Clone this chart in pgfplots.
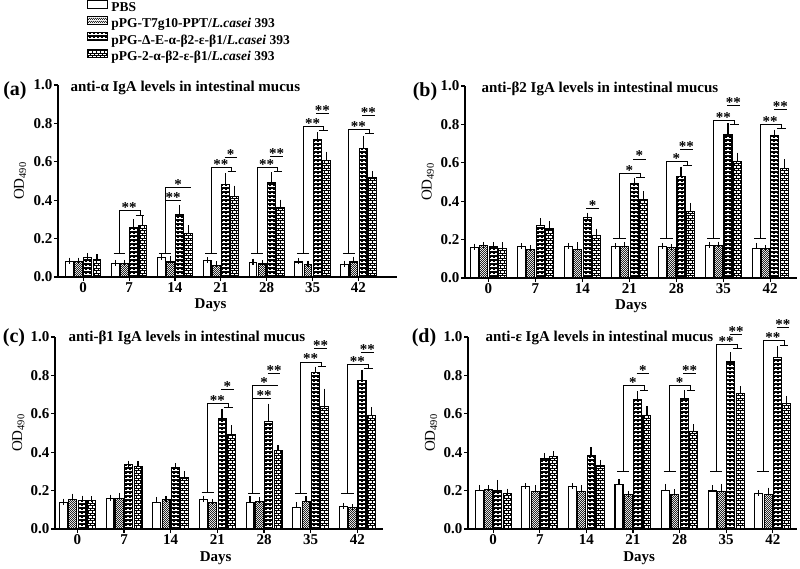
\documentclass[border=0pt]{standalone}
\usepackage{fontspec}
\setmainfont{Liberation Serif}
\usepackage{pgfplots}
\pgfplotsset{compat=1.18}
\usepackage{pgfplotstable}
\usetikzlibrary{patterns}

\newcommand{\fs}{\fontsize{15}{17}\selectfont}

% brick texture (white bars), H texture (black bars), checker (vector bars)
\pgfdeclarepatternformonly{brick}{\pgfqpoint{-1pt}{-1pt}}{\pgfqpoint{5pt}{6pt}}{\pgfqpoint{4pt}{5pt}}{%
  \pgfsetlinewidth{0.7pt}
  \pgfpathmoveto{\pgfqpoint{0pt}{0pt}}\pgfpathlineto{\pgfqpoint{4pt}{0pt}}
  \pgfpathmoveto{\pgfqpoint{0pt}{2.5pt}}\pgfpathlineto{\pgfqpoint{4pt}{2.5pt}}
  \pgfpathmoveto{\pgfqpoint{0pt}{0pt}}\pgfpathlineto{\pgfqpoint{0pt}{2.5pt}}
  \pgfpathmoveto{\pgfqpoint{2pt}{2.5pt}}\pgfpathlineto{\pgfqpoint{2pt}{5pt}}
  \pgfusepath{stroke}}
\pgfdeclarepatternformonly{Hpat}{\pgfqpoint{-1pt}{-1pt}}{\pgfqpoint{5pt}{5pt}}{\pgfqpoint{4pt}{4pt}}{%
  \pgfsetlinewidth{0.75pt}
  \pgfpathmoveto{\pgfqpoint{0.8pt}{0.6pt}}\pgfpathlineto{\pgfqpoint{0.8pt}{3.4pt}}
  \pgfpathmoveto{\pgfqpoint{3.2pt}{0.6pt}}\pgfpathlineto{\pgfqpoint{3.2pt}{3.4pt}}
  \pgfpathmoveto{\pgfqpoint{0.8pt}{2pt}}\pgfpathlineto{\pgfqpoint{3.2pt}{2pt}}
  \pgfusepath{stroke}}
\pgfdeclarepatternformonly{checker}{\pgfqpoint{0pt}{0pt}}{\pgfqpoint{2.4pt}{2.4pt}}{\pgfqpoint{2.4pt}{2.4pt}}{%
  \pgfpathrectangle{\pgfqpoint{0pt}{0pt}}{\pgfqpoint{1.2pt}{1.2pt}}
  \pgfpathrectangle{\pgfqpoint{1.2pt}{1.2pt}}{\pgfqpoint{1.2pt}{1.2pt}}
  \pgfusepath{fill}}

% x  PBS  T7g10  DeltaE  2-alpha  (value, SD)
\pgfplotstableread{
x A Ae B Be C Ce D De
0 0.080 0.005 0.080 0.005 0.102 0.008 0.092 0.010
1 0.070 0.003 0.070 0.003 0.260 0.025 0.270 0.030
2 0.100 0.004 0.078 0.015 0.325 0.035 0.225 0.028
3 0.085 0.003 0.062 0.004 0.480 0.045 0.420 0.040
4 0.077 0.003 0.068 0.004 0.490 0.040 0.360 0.028
5 0.078 0.003 0.065 0.003 0.715 0.025 0.607 0.030
6 0.066 0.004 0.078 0.012 0.670 0.050 0.520 0.017
}\tabA
\pgfplotstableread{
x A Ae B Be C Ce D De
0 0.160 0.003 0.167 0.004 0.165 0.005 0.155 0.015
1 0.163 0.003 0.150 0.004 0.275 0.020 0.255 0.025
2 0.165 0.003 0.150 0.020 0.313 0.012 0.220 0.022
3 0.163 0.003 0.163 0.008 0.490 0.017 0.407 0.030
4 0.165 0.003 0.157 0.004 0.530 0.035 0.348 0.028
5 0.167 0.003 0.170 0.004 0.746 0.044 0.608 0.030
6 0.155 0.013 0.155 0.002 0.740 0.017 0.568 0.035
}\tabB
\pgfplotstableread{
x A Ae B Be C Ce D De
0 0.138 0.004 0.152 0.017 0.150 0.008 0.150 0.006
1 0.160 0.003 0.157 0.015 0.337 0.004 0.325 0.012
2 0.138 0.014 0.154 0.003 0.322 0.004 0.266 0.020
3 0.152 0.005 0.137 0.004 0.576 0.036 0.490 0.035
4 0.138 0.018 0.145 0.004 0.562 0.075 0.407 0.013
5 0.112 0.014 0.145 0.012 0.813 0.017 0.640 0.075
6 0.118 0.003 0.112 0.002 0.775 0.038 0.593 0.026
}\tabC
\pgfplotstableread{
x A Ae B Be C Ce D De
0 0.200 0.014 0.207 0.004 0.200 0.040 0.183 0.012
1 0.220 0.003 0.195 0.016 0.365 0.016 0.376 0.014
2 0.220 0.003 0.197 0.016 0.380 0.030 0.328 0.017
3 0.230 0.014 0.178 0.003 0.672 0.030 0.590 0.035
4 0.200 0.020 0.180 0.012 0.680 0.028 0.510 0.020
5 0.198 0.014 0.195 0.022 0.870 0.035 0.707 0.022
6 0.183 0.004 0.180 0.020 0.893 0.043 0.652 0.026
}\tabD

\tikzset{
  br/.style={line width=0.9pt},
  st/.style={font=\fs\bfseries, anchor=base, inner sep=0pt, yshift=-2pt},
}
\pgfplotsset{
  sA/.style={draw=black, fill=white},
  sB/.style={draw=black, preaction={fill=white}, pattern=checker, pattern color=black!85},
  sC/.style={draw=black, preaction={fill=black}, pattern=Hpat, pattern color=white},
  sD/.style={draw=black, preaction={fill=white}, pattern=brick},
  panel/.style={
    ybar, scale only axis, clip=false, anchor=south west,
    height=192pt,
    ymin=0, ymax=1,
    ytick={0,0.2,0.4,0.6,0.8,1.0}, yticklabels={0.0,0.2,0.4,0.6,0.8,1.0},
    xtick={0,1,2,3,4,5,6}, xticklabels={0,7,14,21,28,35,42},
    axis x line=bottom, axis y line=left,
    axis line style={-, line width=1.5pt},
    tick align=outside, major tick length=4pt,
    tick style={black, line width=1.2pt},
    ticklabel style={font=\fs\bfseries, inner sep=1.5pt},
    xlabel={Days}, ylabel={OD\textsubscript{490}},
    xlabel style={font=\fs\bfseries, anchor=center},
    ylabel style={font=\fs, anchor=center, at={(axis description cs:-0.112,0.5)}},
    bar width=0.17,
    every axis plot/.append style={line width=1.1pt},
    error bars/y dir=plus, error bars/y explicit,
    error bars/error mark=-,
    error bars/error bar style={line width=1.1pt, black},
    error bars/error mark options={line width=1.1pt, mark size=3pt, black},
  },
}

\newcommand{\bars}[1]{%
  \addplot[sA, bar shift=-0.3] table[x=x,y=A,y error=Ae]{#1};
  \addplot[sB, bar shift=-0.1] table[x=x,y=B,y error=Be]{#1};
  \addplot[sC, bar shift=0.1] table[x=x,y=C,y error=Ce]{#1};
  \addplot[sD, bar shift=0.3] table[x=x,y=D,y error=De]{#1};
}
% bracket: group, control level, top level, label
\newcommand{\brk}[4]{%
  \draw[br] (axis cs:#1-0.34,#2) -- (axis cs:#1-0.08,#2);
  \draw[br] (axis cs:#1-0.21,#2) -- (axis cs:#1-0.21,#3) -- (axis cs:#1+0.24,#3) -- (axis cs:#1+0.24,#3-0.022);
  \draw[br] (axis cs:#1+0.15,#3-0.022) -- (axis cs:#1+0.33,#3-0.022);
  \node[st] at (axis cs:#1,#3) {#4};
}
% short line over the two vaccine groups
\newcommand{\sg}[3]{%
  \draw[br] (axis cs:#1+0.08,#2) -- (axis cs:#1+0.35,#2);
  \node[st] at (axis cs:#1+0.215,#2) {#3};
}

\begin{document}
\begin{tikzpicture}
\useasboundingbox (0pt,0pt) rectangle (800pt,-568pt);

% (a)
\begin{axis}[panel, at={(58pt,-277pt)}, width=339pt, xmin=-0.55, xmax=6.84,
  xlabel style={at={(axis description cs:0.45,-0.148)}},
  legend style={at={(axis description cs:0,1)}, anchor=south west,
    xshift=26pt, yshift=18pt, draw=none, fill=none,
    font=\fontsize{13.5}{15}\selectfont\bfseries,
    row sep=0pt, column sep=2pt,
    nodes={inner sep=1pt, text height=10pt, text depth=3.5pt}},
  legend cell align=left,
  legend image code/.code={\draw[#1] (0pt,0pt) rectangle (20pt,8pt);},
]
\bars{\tabA}
\legend{PBS, pPG-T7g10-PPT/\textit{L.casei} 393,
  pPG-Δ-E-α-β2-ε-β1/\textit{L.casei} 393, pPG-2-α-β2-ε-β1/\textit{L.casei} 393}
\brk{1}{0.125}{0.345}{**}
\draw[br] (axis cs:2-0.34,0.125) -- (axis cs:2-0.08,0.125);
\draw[br] (axis cs:2-0.21,0.125) -- (axis cs:2-0.21,0.465) -- (axis cs:2+0.36,0.465);
\draw[br] (axis cs:2-0.21,0.40) -- (axis cs:2+0.14,0.40);
\node[st] at (axis cs:2+0.07,0.465) {*};
\node[st] at (axis cs:2-0.04,0.40) {**};
\brk{3}{0.125}{0.57}{**}  \sg{3}{0.625}{*}
\brk{4}{0.125}{0.57}{**}  \sg{4}{0.63}{**}
\brk{5}{0.125}{0.785}{**} \sg{5}{0.85}{**}
\brk{6}{0.125}{0.77}{**}  \sg{6}{0.84}{**}
\node[anchor=west, font=\fs\bfseries, xshift=9pt, yshift=-3pt] at (rel axis cs:0,1) {anti-α IgA levels in intestinal mucus};
\node[font=\fontsize{20}{22}\selectfont\bfseries, xshift=-43pt, yshift=-6pt] at (rel axis cs:0,1) {(a)};
\end{axis}

% (b)
\begin{axis}[panel, at={(465pt,-278pt)}, width=332pt, xmin=-0.5, xmax=6.57,
  xlabel style={at={(axis description cs:0.5,-0.148)}}]
\bars{\tabB}
\sg{2}{0.36}{*}
\brk{3}{0.205}{0.545}{*}  \sg{3}{0.62}{*}
\brk{4}{0.205}{0.607}{*}  \sg{4}{0.67}{**}
\brk{5}{0.205}{0.82}{**}  \sg{5}{0.90}{**}
\brk{6}{0.205}{0.80}{**}  \sg{6}{0.88}{**}
\node[anchor=west, font=\fs\bfseries, xshift=13pt, yshift=-3pt] at (rel axis cs:0,1) {anti-β2 IgA levels in intestinal mucus};
\node[font=\fontsize{20}{22}\selectfont\bfseries, xshift=-40pt, yshift=-6pt] at (rel axis cs:0,1) {(b)};
\end{axis}

% (c)
\begin{axis}[panel, at={(55pt,-529pt)}, width=328pt, xmin=-0.48, xmax=6.55,
  xlabel style={at={(axis description cs:0.49,-0.15)}}]
\bars{\tabC}
\brk{3}{0.19}{0.654}{**}  \sg{3}{0.727}{*}
\draw[br] (axis cs:4-0.34,0.187) -- (axis cs:4-0.08,0.187);
\draw[br] (axis cs:4-0.24,0.187) -- (axis cs:4-0.24,0.75) -- (axis cs:4+0.3,0.75);
\draw[br] (axis cs:4-0.24,0.68) -- (axis cs:4+0.16,0.68);
\node[st] at (axis cs:4,0.75) {*};
\node[st] at (axis cs:4,0.68) {**};
\sg{4}{0.81}{**}
\brk{5}{0.187}{0.87}{**}  \sg{5}{0.94}{**}
\brk{6}{0.187}{0.858}{**} \sg{6}{0.92}{**}
\node[anchor=west, font=\fs\bfseries, xshift=10pt, yshift=-1pt] at (rel axis cs:0,1) {anti-β1 IgA levels in intestinal mucus};
\node[font=\fontsize{20}{22}\selectfont\bfseries, xshift=-41pt, yshift=-1pt] at (rel axis cs:0,1) {(c)};
\end{axis}

% (d)
\begin{axis}[panel, at={(468pt,-529pt)}, width=329pt, xmin=-0.54, xmax=6.52,
  xlabel style={at={(axis description cs:0.52,-0.15)}}]
\bars{\tabD}
\brk{3}{0.3}{0.746}{*}   \sg{3}{0.812}{*}
\brk{4}{0.3}{0.746}{*}   \sg{4}{0.81}{**}
\brk{5}{0.3}{0.962}{**}  \sg{5}{1.015}{**}
\brk{6}{0.3}{0.98}{**}   \sg{6}{1.05}{**}
\node[anchor=west, font=\fs\bfseries, xshift=14pt, yshift=-1pt] at (rel axis cs:0,1) {anti-ε IgA levels in intestinal mucus};
\node[font=\fontsize{20}{22}\selectfont\bfseries, xshift=-44pt, yshift=-1pt] at (rel axis cs:0,1) {(d)};
\end{axis}
\end{tikzpicture}
\end{document}
